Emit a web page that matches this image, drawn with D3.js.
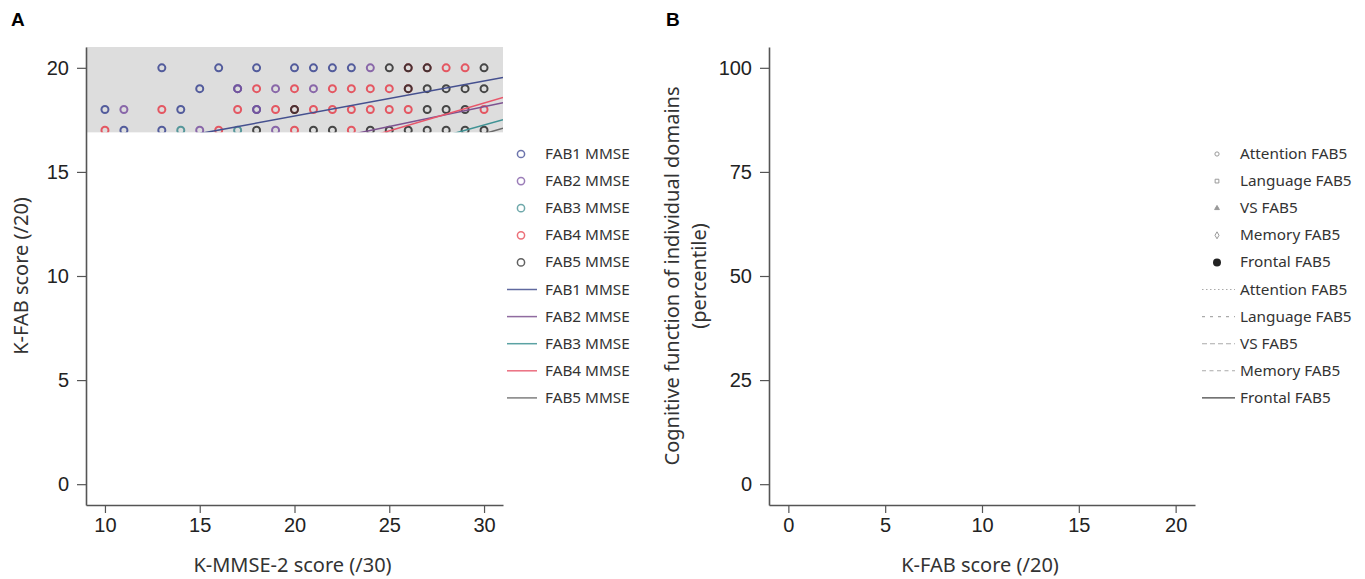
<!DOCTYPE html>
<html>
<head>
<meta charset="utf-8">
<script src="https://cdn.jsdelivr.net/npm/d3@7"></script>
<style>
    body { margin: 0; background: #fff; }
    .tick text { font-family: "Liberation Sans", Arial, sans-serif; font-size: 20px; fill: #222; }
    .title { font-family: "Noto Sans", sans-serif; font-size: 20px; fill: #333; }
    .legend text { font-family: "Noto Sans", sans-serif; font-size: 15.3px; fill: #333; }
</style>
</head>
<body>
<svg id="chart" width="1365" height="579"></svg>
<script>
// panel A data: K-MMSE-2 score vs K-FAB score, one list per FAB group
const seriesNames = ['FAB1 MMSE', 'FAB2 MMSE', 'FAB3 MMSE', 'FAB4 MMSE', 'FAB5 MMSE'];
const fab1Points = [[13, 20], [16, 20], [18, 20], [20, 20], [21, 20], [22, 20], [23, 20],
    [15, 19], [17, 19], [10, 18], [14, 18], [18, 18], [11, 17], [13, 17]];
const fab2Points = [[24, 20], [17, 19], [19, 19], [21, 19], [11, 18], [18, 18], [15, 17], [19, 17]];
const fab3Points = [[14, 17], [17, 17]];
const fab4Points = [[26, 20], [27, 20], [28, 20], [29, 20],
    [18, 19], [20, 19], [22, 19], [23, 19], [24, 19], [25, 19], [26, 19],
    [13, 18], [17, 18], [19, 18], [20, 18], [21, 18], [22, 18], [23, 18], [24, 18], [25, 18], [26, 18], [30, 18],
    [10, 17], [16, 17], [20, 17], [23, 17]];
const fab5Points = [[25, 20], [26, 20], [27, 20], [30, 20],
    [26, 19], [27, 19], [28, 19], [29, 19], [30, 19],
    [20, 18], [27, 18], [28, 18], [29, 18],
    [18, 17], [21, 17], [22, 17], [24, 17], [25, 17], [26, 17], [27, 17], [28, 17], [29, 17], [30, 17]];
// fitted lines, two points each [mmse, fab]
const fab1Fit = [[15, 16.84], [31, 19.53]];
const fab2Fit = [[20, 16.23], [31, 18.32]];
const fab3Fit = [[25, 15.98], [31, 17.51]];
const fab4Fit = [[20, 15.64], [31, 18.57]];
const fab5Fit = [[28, 16.3], [31, 17.1]];
const xTicksA = [10, 15, 20, 25, 30];
const yTicksA = [0, 5, 10, 15, 20];
const shadedFrom = 16.9; // visible part of the scatter

// panel B: only axes and legend are shown
const domainNames = ['Attention FAB5', 'Language FAB5', 'VS FAB5', 'Memory FAB5', 'Frontal FAB5'];
const xTicksB = [0, 5, 10, 15, 20];
const yTicksB = [0, 25, 50, 75, 100];

const pointSets = [fab1Points, fab2Points, fab3Points, fab4Points, fab5Points];
const fitSets = [fab1Fit, fab2Fit, fab3Fit, fab4Fit, fab5Fit];
const markColors = ['#3b4590', '#7a52a0', '#3d8b8e', '#e5404c', '#2b2b2b'];
const lineColors = ['#45508f', '#7d5290', '#3f9294', '#e8566a', '#6a6a6a'];

const svg = d3.select('#chart');

//panel letters
svg.append('text').attr('x', 11).attr('y', 26).text('A')
    .style('font-family', 'Liberation Sans, Arial').style('font-weight', 'bold').style('font-size', '19px');
svg.append('text').attr('x', 666).attr('y', 26).text('B')
    .style('font-family', 'Liberation Sans, Arial').style('font-weight', 'bold').style('font-size', '19px');

// ---------- panel A ----------
const xA = d3.scaleLinear().domain([9, 31]).range([86, 503]);
const yA = d3.scaleLinear().domain([-1, 21]).range([505, 47]);

svg.append('defs').append('clipPath').attr('id', 'clipA')
    .append('rect')
    .attr('x', xA(9)).attr('y', yA(21))
    .attr('width', xA(31) - xA(9)).attr('height', yA(shadedFrom) - yA(21));

svg.append('rect') //grey background of the visible part
    .attr('x', xA(9)).attr('y', yA(21))
    .attr('width', xA(31) - xA(9)).attr('height', yA(shadedFrom) - yA(21))
    .attr('fill', '#dddddd');

const plotA = svg.append('g').attr('clip-path', 'url(#clipA)');

pointSets.forEach((pts, i) => {
    plotA.selectAll('.pt' + i)
        .data(pts)
        .enter().append('circle')
        .attr('class', 'pt' + i)
        .attr('cx', d => xA(d[0]))
        .attr('cy', d => yA(d[1]))
        .attr('r', 3.5)
        .attr('fill', 'none')
        .attr('stroke', markColors[i])
        .attr('stroke-width', 2)
        .attr('opacity', 0.85);
});

const lineA = d3.line().x(d => xA(d[0])).y(d => yA(d[1]));
fitSets.forEach((pts, i) => {
    plotA.append('path')
        .attr('d', lineA(pts))
        .attr('fill', 'none')
        .attr('stroke', lineColors[i])
        .attr('stroke-width', 1.5);
});

drawAxes(xA, yA, xTicksA, yTicksA, 'K-MMSE-2 score (/30)');
svg.append('text').attr('class', 'title')
    .attr('transform', 'translate(28,' + yA(10) + ') rotate(-90)')
    .attr('text-anchor', 'middle')
    .text('K-FAB score (/20)');

//legend A
const legA = svg.append('g').attr('class', 'legend').attr('transform', 'translate(505,154)');
seriesNames.forEach((name, i) => {
    const g = legA.append('g').attr('transform', 'translate(0,' + i * 27.1 + ')');
    g.append('circle').attr('cx', 16).attr('cy', 0).attr('r', 3.6)
        .attr('fill', 'none').attr('stroke', markColors[i]).attr('stroke-width', 1.5).attr('opacity', 0.75);
    g.append('text').attr('x', 40).attr('y', 5).text(name);
});
seriesNames.forEach((name, i) => {
    const g = legA.append('g').attr('transform', 'translate(0,' + (i + 5) * 27.1 + ')');
    g.append('line').attr('x1', 2).attr('x2', 32).attr('y1', 0).attr('y2', 0)
        .attr('stroke', lineColors[i]).attr('stroke-width', 1.5).attr('opacity', 0.85);
    g.append('text').attr('x', 40).attr('y', 5).text(name);
});

// ---------- panel B ----------
const xB = d3.scaleLinear().domain([-1, 21]).range([769, 1195]);
const yB = d3.scaleLinear().domain([-5, 105]).range([505, 47]);

drawAxes(xB, yB, xTicksB, yTicksB, 'K-FAB score (/20)');
const yTitleB = svg.append('text').attr('class', 'title')
    .attr('transform', 'translate(679,' + yB(50) + ') rotate(-90)')
    .attr('text-anchor', 'middle');
yTitleB.append('tspan').attr('x', 0).attr('dy', 0).text('Cognitive function of individual domains');
yTitleB.append('tspan').attr('x', 0).attr('dy', 27).text('(percentile)');

//legend B
const legB = svg.append('g').attr('class', 'legend').attr('transform', 'translate(1200,154)');
const symbolTypes = [d3.symbolCircle, d3.symbolSquare, d3.symbolTriangle, d3.symbolDiamond, d3.symbolCircle];
const symbolSizes = [14, 14, 10, 14, 50];
domainNames.forEach((name, i) => {
    const g = legB.append('g').attr('transform', 'translate(0,' + i * 27.1 + ')');
    const filled = i === 2 || i === 4;
    g.append('path')
        .attr('transform', 'translate(17,0)')
        .attr('d', d3.symbol().type(symbolTypes[i]).size(symbolSizes[i]))
        .attr('fill', filled ? (i === 4 ? '#222' : '#999') : 'none')
        .attr('stroke', i === 4 ? 'none' : '#999')
        .attr('stroke-width', 1);
    g.append('text').attr('x', 40).attr('y', 5).text(name);
});
const dashes = ['1.5,2.5', '3,5', '5,3', '4,3.5', null];
domainNames.forEach((name, i) => {
    const g = legB.append('g').attr('transform', 'translate(0,' + (i + 5) * 27.1 + ')');
    g.append('line').attr('x1', 2).attr('x2', 35).attr('y1', 0).attr('y2', 0)
        .attr('stroke', i === 4 ? '#444' : '#aaa')
        .attr('stroke-width', 1.1)
        .attr('stroke-dasharray', dashes[i]);
    g.append('text').attr('x', 40).attr('y', 5).text(name);
});

function drawAxes(x, y, xTicks, yTicks, xTitle) {
    const [x0, x1] = x.range();
    const [y0, y1] = y.range();

    const gx = svg.append('g')
        .attr('transform', 'translate(0,' + y0 + ')')
        .call(d3.axisBottom(x).tickValues(xTicks).tickSize(8).tickPadding(5).tickSizeOuter(0));
    const gy = svg.append('g')
        .attr('transform', 'translate(' + x0 + ',0)')
        .call(d3.axisLeft(y).tickValues(yTicks).tickSize(9).tickPadding(8).tickSizeOuter(0));
    [gx, gy].forEach(g => {
        g.select('.domain').attr('stroke', '#555').attr('stroke-width', 1.6);
        g.selectAll('.tick line').attr('stroke', '#555').attr('stroke-width', 1.2);
    });

    svg.append('text').attr('class', 'title')
        .attr('x', (x0 + x1) / 2 - 2).attr('y', 572)
        .attr('text-anchor', 'middle')
        .text(xTitle);
}
</script>
</body>
</html>
